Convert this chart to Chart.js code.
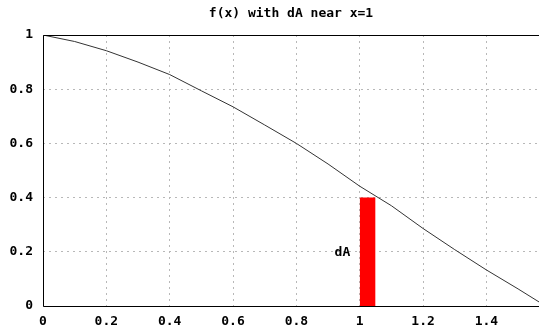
<!DOCTYPE html>
<html>
<head>
<meta charset="utf-8">
<script src="https://cdn.jsdelivr.net/npm/chart.js@4/dist/chart.umd.min.js"></script>
<style>
html,body{margin:0;padding:0;background:#fff;}
#wrap{width:539px;height:332px;position:relative;}
</style>
</head>
<body>
<div id="wrap"><canvas id="c" width="539" height="332"></canvas></div>
<script>
const titleText = "f(x) with dA near x=1";
const curveX = [0, 0.1, 0.2, 0.3, 0.4, 0.5, 0.6, 0.7, 0.8, 0.9, 1.0, 1.1, 1.2, 1.3, 1.4, 1.5, 1.566];
const curveY = [1.0, 0.976, 0.942, 0.900, 0.854, 0.794, 0.735, 0.668, 0.600, 0.524, 0.442, 0.370, 0.286, 0.208, 0.133, 0.063, 0.015];
const stripX = [1.0, 1.05];
const stripY = [0.4, 0.4];
const stripLabel = "dA";
const stripLabelAt = {x: 0.97, y: 0.2};
const xMin = 0, xMax = 1.566, xStep = 0.2;
const yMin = 0, yMax = 1, yStep = 0.2;

const FONT = '"DejaVu Sans Mono", monospace';
const fmt = v => String(Math.round(v * 10) / 10);

const framePlugin = {
  id: 'frame',
  afterDatasetsDraw(chart) {
    const {ctx, chartArea: a, scales} = chart;
    ctx.save();
    ctx.font = 'bold 13px ' + FONT;
    ctx.fillStyle = '#000';
    ctx.textAlign = 'right';
    ctx.textBaseline = 'middle';
    ctx.fillText(stripLabel, scales.x.getPixelForValue(stripLabelAt.x), scales.y.getPixelForValue(stripLabelAt.y) + 1);
    ctx.strokeStyle = '#000';
    ctx.lineWidth = 1;
    ctx.beginPath();
    ctx.moveTo(Math.round(a.left) + 0.5, Math.round(a.bottom) + 0.5);
    ctx.lineTo(Math.round(a.left) + 0.5, Math.round(a.top) + 0.5);
    ctx.lineTo(a.right + 1, Math.round(a.top) + 0.5);
    ctx.moveTo(Math.round(a.left) + 0.5, Math.round(a.bottom) + 0.5);
    ctx.lineTo(a.right + 1, Math.round(a.bottom) + 0.5);
    ctx.stroke();
    ctx.textAlign = 'center';
    ctx.fillText(titleText, (a.left + a.right) / 2, 14);
    ctx.restore();
  }
};

new Chart(document.getElementById('c'), {
  type: 'line',
  data: {
    datasets: [
      {
        data: curveX.map((x, i) => ({x, y: curveY[i]})),
        borderColor: '#333',
        borderWidth: 1,
        pointRadius: 0,
        tension: 0,
        fill: false,
        order: 1
      },
      {
        data: stripX.map((x, i) => ({x, y: stripY[i]})),
        borderColor: 'rgba(0,0,0,0)',
        borderWidth: 0,
        backgroundColor: '#ff0000',
        pointRadius: 0,
        fill: 'origin',
        order: 2
      }
    ]
  },
  options: {
    responsive: false,
    animation: false,
    devicePixelRatio: 1,
    layout: {padding: {top: 35, right: 0, left: 0, bottom: 0}},
    plugins: {legend: {display: false}, title: {display: false}, tooltip: {enabled: false}},
    scales: {
      x: {
        type: 'linear',
        min: xMin, max: xMax,
        afterFit(s) { s.height = 26; },
        ticks: {
          stepSize: xStep, includeBounds: false, autoSkip: false, maxRotation: 0,
          callback: fmt,
          color: '#000', font: {family: FONT, size: 13, weight: 'bold'}, padding: 8
        },
        grid: {color: '#b8b8b8', lineWidth: 1, drawTicks: false},
        border: {display: false, dash: [2, 4]}
      },
      y: {
        type: 'linear',
        min: yMin, max: yMax,
        afterFit(s) { s.width = 43; },
        ticks: {
          stepSize: yStep, includeBounds: false,
          callback: fmt,
          color: '#000', font: {family: FONT, size: 13, weight: 'bold'}, padding: 10
        },
        grid: {color: '#b8b8b8', lineWidth: 1, drawTicks: false},
        border: {display: false, dash: [2, 4]}
      }
    }
  },
  plugins: [framePlugin]
});
</script>
</body>
</html>
